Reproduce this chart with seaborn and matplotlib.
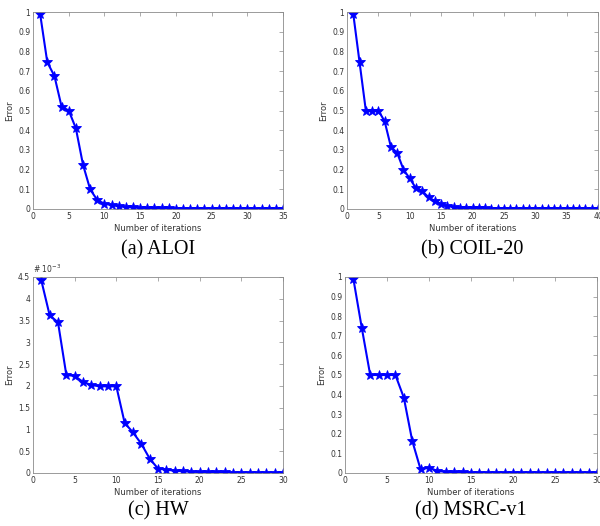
import numpy as np
import pandas as pd
import seaborn as sns
import matplotlib.pyplot as plt

# error per iteration
aloi = [0.99, 0.745, 0.675, 0.52, 0.50, 0.41, 0.225, 0.10, 0.045, 0.027,
        0.02, 0.014, 0.01, 0.008, 0.006, 0.005, 0.004, 0.003, 0.003, 0.002,
        0.002, 0.002, 0.002, 0.001, 0.001, 0.001, 0.001, 0.001, 0.001, 0.001,
        0.001, 0.001, 0.001, 0.001, 0.001]
coil20 = [0.99, 0.745, 0.50, 0.50, 0.50, 0.445, 0.315, 0.285, 0.20, 0.155,
          0.105, 0.09, 0.06, 0.04, 0.025, 0.016, 0.01, 0.007, 0.005, 0.004,
          0.003, 0.003, 0.002, 0.002, 0.002, 0.002, 0.001, 0.001, 0.001, 0.001,
          0.001, 0.001, 0.001, 0.001, 0.001, 0.001, 0.001, 0.001, 0.001, 0.001]
hw = [4.42, 3.62, 3.46, 2.25, 2.23, 2.09, 2.02, 1.99, 1.99, 1.99,
      1.15, 0.93, 0.67, 0.33, 0.10, 0.08, 0.05, 0.04, 0.03, 0.02,
      0.02, 0.015, 0.012, 0.01, 0.008, 0.006, 0.005, 0.004, 0.003, 0.003]  # x 1e-3
msrc = [0.99, 0.74, 0.50, 0.50, 0.50, 0.50, 0.385, 0.165, 0.018, 0.028,
        0.01, 0.006, 0.004, 0.003, 0.002, 0.002, 0.001, 0.001, 0.001, 0.001,
        0.001, 0.001, 0.001, 0.001, 0.001, 0.001, 0.001, 0.001, 0.001, 0.001]

captions = ['(a) ALOI', '(b) COIL-20', '(c) HW', '(d) MSRC-v1']
xmax = [35, 40, 30, 30]
ymax = [1, 1, 4.5, 1]
ystep = [0.1, 0.1, 0.5, 0.1]

sns.set_theme(style='white')
plt.rcParams['font.family'] = ['DejaVu Sans']

W, H = 600, 526
fig = plt.figure(figsize=(6, 5.26), dpi=100)

# axes boxes in pixels: left, right, top, bottom
boxes = [(33, 283, 12, 209), (347, 598, 12, 209),
         (33, 283, 277, 473), (345, 597, 277, 473)]
cap_y = [250, 250, 511, 511]
grey = '#8a8a8a'

for i, vals in enumerate([aloi, coil20, hw, msrc]):
    l, r, t, b = boxes[i]
    ax = fig.add_axes([l / W, 1 - b / H, (r - l) / W, (b - t) / H])
    df = pd.DataFrame({'iter': np.arange(1, len(vals) + 1), 'err': vals})
    sns.lineplot(data=df, x='iter', y='err', ax=ax, color='#0000ff',
                 linewidth=1.5, marker='*', markersize=7,
                 markeredgecolor='#0000ff', markeredgewidth=0.6)
    ax.set_xlim(0, xmax[i])
    ax.set_ylim(0, ymax[i])
    ax.set_xticks(np.arange(0, xmax[i] + 1, 5))
    yt = np.round(np.arange(0, ymax[i] + 1e-9, ystep[i]), 2)
    ax.set_yticks(yt)
    ax.set_yticklabels(['%g' % v for v in yt])
    ax.tick_params(direction='in', length=3, width=0.5, colors=grey,
                   labelcolor='#333333', labelsize=5.5, pad=2,
                   top=True, right=True)
    for s in ax.spines.values():
        s.set_color(grey)
        s.set_linewidth(0.6)
    ax.set_xlabel('Number of iterations', fontsize=6, color='#333333', labelpad=2)
    ax.set_ylabel('Error', fontsize=6, color='#333333', labelpad=3)
    if i == 2:
        ax.text(0, 1.01, r'# 10$^{-3}$', transform=ax.transAxes,
                fontsize=5.5, color='#333333', va='bottom', ha='left')
    fig.text((l + r) / 2 / W, 1 - cap_y[i] / H, captions[i], color='black',
             family='Liberation Serif', fontsize=14.5, ha='center', va='center')

fig.savefig('out.png', dpi=100)
